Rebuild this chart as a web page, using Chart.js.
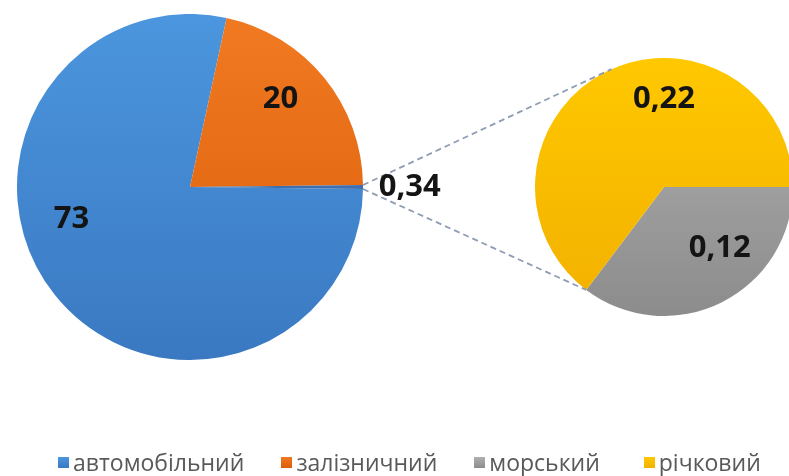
<!DOCTYPE html>
<html lang="uk">
<head>
<meta charset="UTF-8">
<title>Вантажні перевезення за видами транспорту</title>
<script src="https://cdn.jsdelivr.net/npm/chart.js"></script>
<style>
  html, body { margin: 0; padding: 0; background: #fff; overflow: hidden; }
  #wrap { position: relative; width: 789px; height: 476px; overflow: hidden; }
  #mainChart { position: absolute; left: 17px; top: 14px; }
  #subChart { position: absolute; left: 535px; top: 58px; }
  #overlay { position: absolute; left: 0; top: 0; pointer-events: none; }
  #legend { position: absolute; left: 58px; top: 446px; display: flex;
            font-family: 'Open Sans', sans-serif; font-size: 23px; color: #595959; line-height: 32px; }
  #legend .item { display: flex; align-items: center; margin-right: 37px; }
  #legend .item:nth-child(3) { margin-right: 44px; }
  #legend i { width: 11px; height: 11px; margin-right: 4px; display: inline-block; }
</style>
</head>
<body>
<div id="wrap">
  <canvas id="mainChart" width="346" height="346"></canvas>
  <canvas id="subChart" width="258" height="258"></canvas>
  <canvas id="overlay" width="789" height="476"></canvas>
  <div id="legend"></div>
</div>

<script>
  // Data
  const mainLabels = ['автомобільний', 'залізничний', 'інший'];
  const mainValues = [73, 20, 0.34];
  const subLabels = ['морський', 'річковий'];
  const subValues = [0.12, 0.22];

  // Colours (top / bottom of the gradient)
  const mainColors = [['#4b96de', '#3a79c2'], ['#f07a22', '#dc5c08'], ['#3f6fae', '#3f6fae']];
  const subColors = [['#b0b0b0', '#8c8c8c'], ['#ffc800', '#f2b000']];

  // Label placement: shift from slice mid-angle (deg) and fraction of radius
  const mainLabelPlace = [{ da: 23.5, rf: 0.71 }, { da: -5, rf: 0.73 }, { da: 0, rf: 1.27 }];
  const subLabelPlace = [{ da: -16, rf: 0.64 }, { da: 26.5, rf: 0.68 }];

  function gradientFill(colors) {
    return function (ctx) {
      const chart = ctx.chart;
      const area = chart.chartArea;
      const c = colors[ctx.dataIndex];
      if (!area) return c[0];
      const g = chart.ctx.createLinearGradient(0, area.top, 0, area.bottom);
      g.addColorStop(0, c[0]);
      g.addColorStop(1, c[1]);
      return g;
    };
  }

  function pieOptions(rotation) {
    return {
      responsive: false,
      animation: false,
      rotation: rotation,
      layout: { padding: 0 },
      events: [],
      plugins: { legend: { display: false }, tooltip: { enabled: false } }
    };
  }

  const mainChart = new Chart(document.getElementById('mainChart'), {
    type: 'pie',
    data: {
      labels: mainLabels,
      datasets: [{
        data: mainValues,
        backgroundColor: gradientFill(mainColors),
        borderWidth: 0,
        hoverOffset: 0
      }]
    },
    // first slice starts just below 3 o'clock so that the small slice sits at 3 o'clock
    options: pieOptions(90 + (mainValues[2] / mainValues.reduce((a, b) => a + b, 0)) * 180)
  });

  const subChart = new Chart(document.getElementById('subChart'), {
    type: 'pie',
    data: {
      labels: subLabels,
      datasets: [{
        data: subValues,
        backgroundColor: gradientFill(subColors),
        borderWidth: 0,
        hoverOffset: 0
      }]
    },
    options: pieOptions(90)
  });

  // Overlay: connector lines and data labels
  const octx = document.getElementById('overlay').getContext('2d');

  function arcGeom(chart, canvasId, i) {
    const el = chart.getDatasetMeta(0).data[i];
    const cv = document.getElementById(canvasId);
    return {
      x: el.x + cv.offsetLeft,
      y: el.y + cv.offsetTop,
      r: el.outerRadius,
      start: el.startAngle,
      end: el.endAngle
    };
  }

  function pointAt(g, angle, rf) {
    return { x: g.x + Math.cos(angle) * g.r * rf, y: g.y + Math.sin(angle) * g.r * rf };
  }

  const other = arcGeom(mainChart, 'mainChart', 2);
  const grey = arcGeom(subChart, 'subChart', 0);

  octx.save();
  octx.strokeStyle = '#8f9cb4';
  octx.lineWidth = 1.8;
  octx.setLineDash([6, 4]);
  const a1 = pointAt(other, other.start, 1);
  const b1 = pointAt(grey, -114 * Math.PI / 180, 1);
  const a2 = pointAt(other, other.end, 1);
  const b2 = pointAt(grey, grey.end, 1);
  octx.beginPath();
  octx.moveTo(a1.x, a1.y); octx.lineTo(b1.x, b1.y);
  octx.moveTo(a2.x, a2.y); octx.lineTo(b2.x, b2.y);
  octx.stroke();
  octx.restore();

  function drawLabels(chart, canvasId, values, place) {
    octx.save();
    octx.font = 'bold 31px "Open Sans", sans-serif';
    octx.fillStyle = '#141414';
    octx.textAlign = 'center';
    octx.textBaseline = 'middle';
    values.forEach(function (v, i) {
      const g = arcGeom(chart, canvasId, i);
      const mid = (g.start + g.end) / 2 + place[i].da * Math.PI / 180;
      const p = pointAt(g, mid, place[i].rf);
      octx.fillText(String(v).replace('.', ','), p.x, p.y);
    });
    octx.restore();
  }

  drawLabels(mainChart, 'mainChart', mainValues, mainLabelPlace);
  drawLabels(subChart, 'subChart', subValues, subLabelPlace);

  // Legend
  const legendItems = [
    [mainLabels[0], mainColors[0]],
    [mainLabels[1], mainColors[1]],
    [subLabels[0], subColors[0]],
    [subLabels[1], subColors[1]]
  ];
  const legend = document.getElementById('legend');
  legendItems.forEach(function (it) {
    const span = document.createElement('span');
    span.className = 'item';
    const box = document.createElement('i');
    box.style.background = 'linear-gradient(' + it[1][0] + ',' + it[1][1] + ')';
    span.appendChild(box);
    span.appendChild(document.createTextNode(it[0]));
    legend.appendChild(span);
  });
</script>
</body>
</html>
